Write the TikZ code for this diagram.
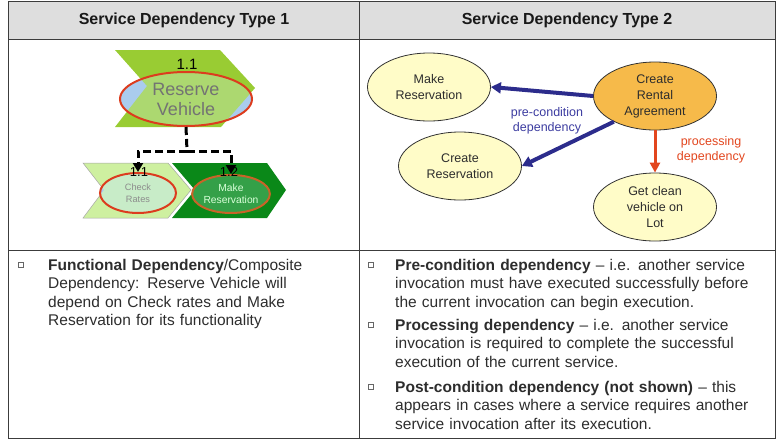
\documentclass[tikz,border=0pt]{standalone}
\usepackage{fontspec}
\setmainfont{Liberation Sans}
\usetikzlibrary{shapes.geometric,arrows.meta,positioning,calc}
\definecolor{HdrGray}{RGB}{222,222,222}
\definecolor{GridGray}{RGB}{60,60,60}
\definecolor{TxtGray}{RGB}{45,45,45}
\definecolor{PreBlue}{RGB}{44,44,140}
\definecolor{PreText}{RGB}{60,60,160}
\definecolor{ProcRed}{RGB}{226,70,30}
\definecolor{Cream}{RGB}{255,252,200}
\definecolor{Amber}{RGB}{246,186,74}
\definecolor{LeafGreen}{RGB}{153,204,51}
\definecolor{LeafLight}{RGB}{172,216,112}
\definecolor{SkyPart}{RGB}{170,204,238}
\definecolor{PaleGreen}{RGB}{206,240,160}
\definecolor{MintGreen}{RGB}{200,236,200}
\definecolor{DeepGreen}{RGB}{10,136,24}
\definecolor{MidGreen}{RGB}{52,160,72}
\definecolor{RimRed}{RGB}{220,60,30}
\definecolor{RimBrown}{RGB}{200,100,40}

\begin{document}
\begin{tikzpicture}[x=1pt,y=-1pt,
  hdr/.style={font=\fontsize{16}{19}\selectfont\bfseries,text=black!90},
  svc/.style={ellipse,draw=black!80,line width=0.8pt,fill=Cream,
              minimum width=123pt,minimum height=68pt,inner sep=0pt,
              align=center,font=\fontsize{12.5}{16}\selectfont,text=TxtGray},
  pre/.style={-{Triangle[length=10pt,width=11pt]},line width=4pt,PreBlue},
  proc/.style={-{Triangle[length=10pt,width=10pt]},line width=3pt,ProcRed},
  dep/.style={line width=3pt,dash pattern=on 8pt off 4pt},
  deparr/.style={dep,-{Triangle[length=9pt,width=10pt]}},
  comp/.style={ellipse,line width=2pt,inner sep=0pt,align=center},
  num/.style={font=\fontsize{13}{15}\selectfont,inner sep=0pt},
  blt/.style={draw=black!60,line width=0.6pt,minimum size=5pt,inner sep=0pt},
  para/.style={anchor=base west,inner sep=0pt,align=left,text width=375pt,
               font=\fontsize{15.5}{18.5}\selectfont,text=TxtGray},
]
\useasboundingbox (0,0) rectangle (778,442);

% table
\fill[HdrGray] (8.5,1) rectangle (775,39);
\draw[GridGray,line width=1pt] (8.5,1) rectangle (775,438);
\draw[GridGray,line width=1pt] (8.5,39) -- (775,39);
\draw[GridGray,line width=1pt] (8.5,250) -- (775,250);
\draw[GridGray,line width=1pt] (359,1) -- (359,438);
\node[hdr] (h1) at (184,20) {Service Dependency Type 1};
\node[hdr] (h2) at (567,20) {Service Dependency Type 2};

% type 1: composite service
\fill[LeafGreen] (115,50) -- (220,50) -- (255,88) -- (221,127) -- (115,127) -- (147,86) -- cycle;
\fill[SkyPart] (186,99) ellipse [x radius=66pt,y radius=27pt];
\begin{scope}
  \clip (186,99) ellipse [x radius=66pt,y radius=27pt];
  \fill[LeafLight] (115,50) -- (220,50) -- (255,88) -- (221,127) -- (115,127) -- (147,86) -- cycle;
\end{scope}
\node[comp,draw=RimRed,minimum width=132pt,minimum height=54pt,
      font=\fontsize{18}{20}\selectfont,text=black!55] (rv) at (186,99) {Reserve\\Vehicle};
\node[num,font=\fontsize{15}{17}\selectfont] (n11) at (187,64) {1.1};

\fill[PaleGreen,draw=black!35,line width=0.5pt] (83,163) -- (168,163) -- (191,190) -- (168,218) -- (83,218) -- (104,190) -- cycle;
\fill[SkyPart] (138,193) ellipse [x radius=38pt,y radius=20pt];
\begin{scope}
  \clip (138,193) ellipse [x radius=38pt,y radius=20pt];
  \fill[MintGreen] (83,163) -- (168,163) -- (191,190) -- (168,218) -- (83,218) -- (104,190) -- cycle;
\end{scope}
\node[comp,draw=RimRed,minimum width=76pt,minimum height=40pt,
      font=\fontsize{9.2}{12}\selectfont,text=black!45] (chk) at (138,193) {Check\\Rates};

\fill[DeepGreen] (172,163) -- (267,163) -- (286,190) -- (267,218) -- (172,218) -- (195,190) -- cycle;
\node[comp,draw=RimBrown,fill=MidGreen,minimum width=76pt,minimum height=38pt,
      font=\fontsize{10.3}{12}\selectfont,text=white!85!green] (mkr) at (231,194) {Make\\Reservation};
\node[num] (n12) at (139,172) {1.1};
\node[num] (n13) at (229,172) {1.2};

\coordinate (split) at (187,151);
\draw[dep] (rv.south) -- (split);
\draw[deparr] (split) -| (chk.north);
\draw[deparr] (split) -| (mkr.north);

% type 2: dependencies between services
\node[svc] (mr) at (429,87) {Make\\Reservation};
\node[svc] (cr) at (460,166) {Create\\Reservation};
\node[svc,fill=Amber] (cra) at (655,96) {Create\\Rental\\Agreement};
\node[svc] (gcv) at (655,207) {Get clean\\vehicle on\\Lot};
\draw[pre] (cra.west) -- (mr.east);
\draw[pre] (cra.212) -- (cr.east);
\draw[proc] (cra.south) -- (gcv.north);
\node[align=center,font=\fontsize{12.5}{15}\selectfont,text=PreText] (pc) at (547,121)
  {pre-condition\\dependency};
\node[align=center,font=\fontsize{12.5}{15}\selectfont,text=ProcRed] (pd) at (711,150)
  {processing\\dependency};

% descriptions
\node[blt] (b1) at (21,265) {};
\node[para,text width=300pt] (t1) at (48,270)
  {\textbf{Functional Dependency}/Composite\\Dependency: Reserve Vehicle will\\depend on Check rates and Make\\Reservation for its functionality};
\node[blt] (b2) at (371,265) {};
\node[para] (t2) at (395,270)
  {\textbf{Pre-condition dependency} -- i.e. another service\\invocation must have executed successfully before\\the current invocation can begin execution.};
\node[blt] (b3) at (371,325) {};
\node[para] (t3) at (395,330)
  {\textbf{Processing dependency} -- i.e. another service\\invocation is required to complete the successful\\execution of the current service.};
\node[blt] (b4) at (371,387) {};
\node[para] (t4) at (395,392)
  {\textbf{Post-condition dependency (not shown)} -- this\\appears in cases where a service requires another\\service invocation after its execution.};
\end{tikzpicture}
\end{document}
